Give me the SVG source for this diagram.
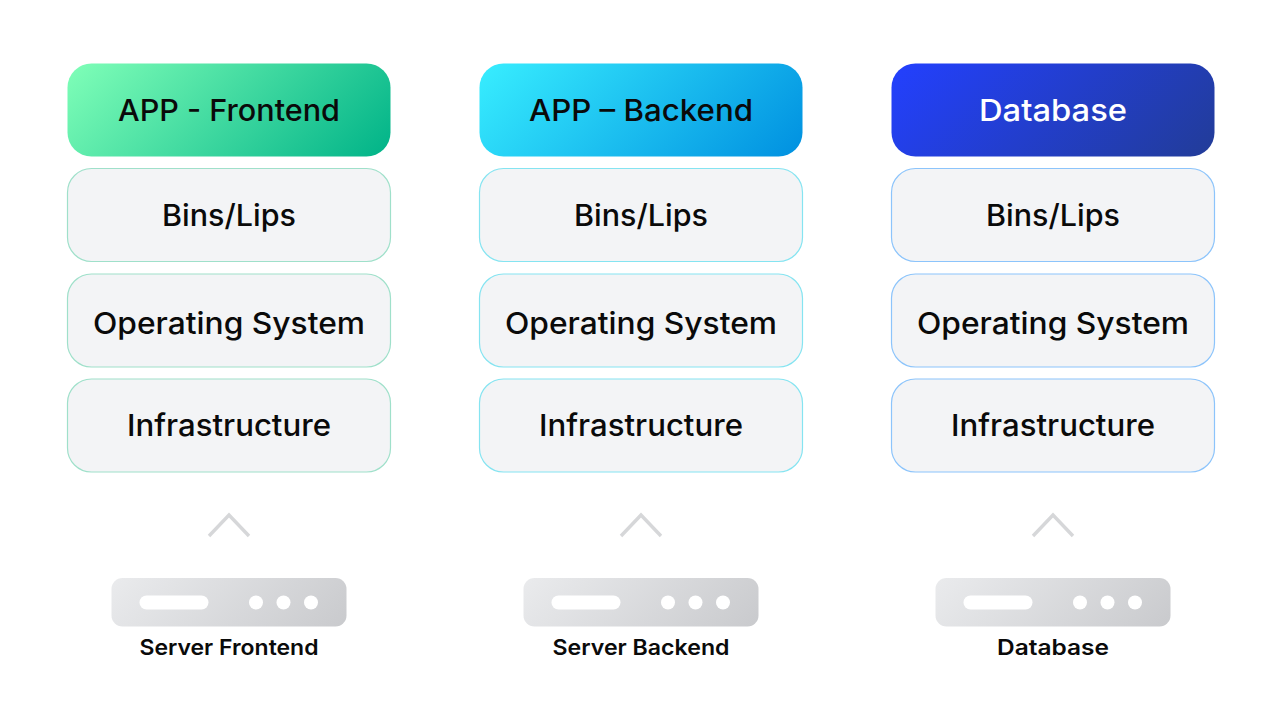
<svg xmlns="http://www.w3.org/2000/svg" width="1280" height="720" viewBox="0 0 1280 720">
<style>
.l{font-family:"Inter","Liberation Sans",sans-serif;font-size:30px;font-weight:500;fill:#0a0a0a;text-anchor:middle}
.s{font-family:"Inter","Liberation Sans",sans-serif;font-size:21.500px;font-weight:600;fill:#0a0a0a;text-anchor:middle}
.g1{fill:#f3f4f6;stroke:#9fe0ca;stroke-width:1.200}
.g2{fill:#f3f4f6;stroke:#85e4f1;stroke-width:1.200}
.g3{fill:#f3f4f6;stroke:#8cc4fb;stroke-width:1.200}
.c{fill:none;stroke:#d6d7d9;stroke-width:3.400}
.w{fill:#fff}
</style>
<defs>
<linearGradient id="a" gradientUnits="userSpaceOnUse" x1="67" y1="63" x2="275" y2="271"><stop offset="0" stop-color="#80ffb8"/><stop offset="1" stop-color="#00b388"/></linearGradient>
<linearGradient id="b" gradientUnits="userSpaceOnUse" x1="479" y1="63" x2="687" y2="271"><stop offset="0" stop-color="#38eeff"/><stop offset="1" stop-color="#0090e0"/></linearGradient>
<linearGradient id="d" gradientUnits="userSpaceOnUse" x1="891" y1="63" x2="1099" y2="271"><stop offset="0" stop-color="#2340ff"/><stop offset="1" stop-color="#223c98"/></linearGradient>
<linearGradient id="sv1" gradientUnits="userSpaceOnUse" x1="111" y1="578" x2="253" y2="720"><stop offset="0" stop-color="#eaebed"/><stop offset="1" stop-color="#c9cacd"/></linearGradient>
<linearGradient id="sv2" gradientUnits="userSpaceOnUse" x1="523" y1="578" x2="665" y2="720"><stop offset="0" stop-color="#eaebed"/><stop offset="1" stop-color="#c9cacd"/></linearGradient>
<linearGradient id="sv3" gradientUnits="userSpaceOnUse" x1="935" y1="578" x2="1077" y2="720"><stop offset="0" stop-color="#eaebed"/><stop offset="1" stop-color="#c9cacd"/></linearGradient>
</defs>
<g id="connectors">
<polyline class="c" points="209,536 229,515 249,536"/>
<polyline class="c" points="621,536 641,515 661,536"/>
<polyline class="c" points="1033,536 1053,515 1073,536"/>
</g>
<g id="frontend-app"><rect x="67.500" y="63.500" width="323" height="93" rx="24" fill="url(#a)"/><text class="l" x="229" y="121" textLength="222" lengthAdjust="spacingAndGlyphs">APP - Frontend</text></g>
<g id="frontend-bins"><rect class="g1" x="67.500" y="168.500" width="323" height="93" rx="24"/><text class="l" x="229" y="226" textLength="134" lengthAdjust="spacingAndGlyphs">Bins/Lips</text></g>
<g id="frontend-os"><rect class="g1" x="67.500" y="274" width="323" height="93" rx="24"/><text class="l" x="229" y="334" textLength="272" lengthAdjust="spacingAndGlyphs">Operating System</text></g>
<g id="frontend-infra"><rect class="g1" x="67.500" y="379" width="323" height="93" rx="24"/><text class="l" x="229" y="436" textLength="204" lengthAdjust="spacingAndGlyphs">Infrastructure</text></g>
<g id="frontend-server"><rect x="111.500" y="578" width="235" height="48.500" rx="11" fill="url(#sv1)"/><rect class="w" x="139.500" y="595.500" width="69" height="14" rx="7"/><circle class="w" cx="256" cy="602.500" r="7"/><circle class="w" cx="283.500" cy="602.500" r="7"/><circle class="w" cx="311" cy="602.500" r="7"/><text class="s" x="229" y="655" textLength="179" lengthAdjust="spacingAndGlyphs">Server Frontend</text></g>
<g id="backend-app"><rect x="479.500" y="63.500" width="323" height="93" rx="24" fill="url(#b)"/><text class="l" x="641" y="121" textLength="224" lengthAdjust="spacingAndGlyphs">APP – Backend</text></g>
<g id="backend-bins"><rect class="g2" x="479.500" y="168.500" width="323" height="93" rx="24"/><text class="l" x="641" y="226" textLength="134" lengthAdjust="spacingAndGlyphs">Bins/Lips</text></g>
<g id="backend-os"><rect class="g2" x="479.500" y="274" width="323" height="93" rx="24"/><text class="l" x="641" y="334" textLength="272" lengthAdjust="spacingAndGlyphs">Operating System</text></g>
<g id="backend-infra"><rect class="g2" x="479.500" y="379" width="323" height="93" rx="24"/><text class="l" x="641" y="436" textLength="204" lengthAdjust="spacingAndGlyphs">Infrastructure</text></g>
<g id="backend-server"><rect x="523.500" y="578" width="235" height="48.500" rx="11" fill="url(#sv2)"/><rect class="w" x="551.500" y="595.500" width="69" height="14" rx="7"/><circle class="w" cx="668" cy="602.500" r="7"/><circle class="w" cx="695.500" cy="602.500" r="7"/><circle class="w" cx="723" cy="602.500" r="7"/><text class="s" x="641" y="655" textLength="177" lengthAdjust="spacingAndGlyphs">Server Backend</text></g>
<g id="database-app"><rect x="891.500" y="63.500" width="323" height="93" rx="24" fill="url(#d)"/><text class="l" x="1053" y="121" textLength="148" lengthAdjust="spacingAndGlyphs" style="fill:#fff">Database</text></g>
<g id="database-bins"><rect class="g3" x="891.500" y="168.500" width="323" height="93" rx="24"/><text class="l" x="1053" y="226" textLength="134" lengthAdjust="spacingAndGlyphs">Bins/Lips</text></g>
<g id="database-os"><rect class="g3" x="891.500" y="274" width="323" height="93" rx="24"/><text class="l" x="1053" y="334" textLength="272" lengthAdjust="spacingAndGlyphs">Operating System</text></g>
<g id="database-infra"><rect class="g3" x="891.500" y="379" width="323" height="93" rx="24"/><text class="l" x="1053" y="436" textLength="204" lengthAdjust="spacingAndGlyphs">Infrastructure</text></g>
<g id="database-server"><rect x="935.500" y="578" width="235" height="48.500" rx="11" fill="url(#sv3)"/><rect class="w" x="963.500" y="595.500" width="69" height="14" rx="7"/><circle class="w" cx="1080" cy="602.500" r="7"/><circle class="w" cx="1107.500" cy="602.500" r="7"/><circle class="w" cx="1135" cy="602.500" r="7"/><text class="s" x="1053" y="655" textLength="112" lengthAdjust="spacingAndGlyphs">Database</text></g>
</svg>
